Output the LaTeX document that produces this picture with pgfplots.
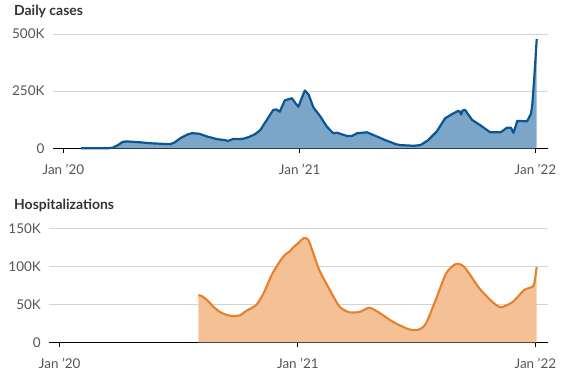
\documentclass[border=0pt]{standalone}
\usepackage{pgfplots}
\pgfplotsset{compat=1.18}
\usepackage{fontspec}
\setmainfont{Lato}
\definecolor{bline}{RGB}{12,84,146}
\definecolor{bfill}{RGB}{124,166,200}
\definecolor{oline}{RGB}{232,128,42}
\definecolor{ofill}{RGB}{244,192,150}
\definecolor{gridc}{RGB}{212,212,212}
\definecolor{tickc}{RGB}{85,85,85}
\definecolor{titc}{RGB}{51,51,51}
\pgfplotsset{
  common/.style={
    anchor=south west, scale only axis,
    xmin=-16, xmax=750, ymin=0,
    axis x line*=bottom, axis y line*=left,
    x axis line style={-, black, line width=0.9pt},
    y axis line style={draw=none},
    xtick={0,366,731}, xticklabels={Jan ’20, Jan ’21, Jan ’22},
    tick align=outside, major tick length=5bp,
    xtick style={black, line width=0.9pt},
    ytick style={draw=none},
    ymajorgrids, grid style={gridc, line width=0.7pt},
    scaled y ticks=false,
    tick label style={font=\fontsize{13.5}{15}\selectfont, text=tickc},
    /pgf/number format/assume math mode=true,
    yticklabel style={anchor=east},
    xticklabel style={yshift=-7bp},
    clip=false,
  }
}
\begin{document}
\begin{tikzpicture}
\path[use as bounding box] (0,0) rectangle (572bp,380bp);
\begin{axis}[common, at={(53bp,231.7bp)}, width=494.7bp, height=114.3bp,
  ymax=500000, ytick={0,250000,500000}, yticklabels={0,250K,500K}]
\addplot[fill=bfill, draw=none] coordinates {
(27,0)(50,0)(70,500)(77,3000)(85,15000)(92,28000)(98,30000)(110,28000)(120,26000)(135,22000)(150,20000)(165,18000)(172,25000)(181,44000)(192,60000)(199,66000)(210,64000)(222,52000)(238,40000)(250,36000)(255,32000)(263,41000)(272,40000)(279,42000)(288,50000)(297,62000)(305,80000)(315,124000)(325,168000)(330,170000)(335,160000)(343,210000)(354,219000)(360,195000)(364,182000)(369,219000)(374,253000)(380,234000)(387,180000)(398,139000)(408,95000)(418,66000)(424,68000)(439,54000)(447,54000)(455,66000)(470,70000)(486,51000)(501,33000)(515,18000)(522,14000)(542,11000)(553,14000)(565,36000)(578,73000)(591,131000)(604,153000)(612,164000)(614,160000)(616,148000)(618,165000)(622,168000)(633,124000)(645,102000)(661,70000)(677,70000)(682,80000)(687,90000)(693,90000)(697,68000)(703,120000)(718,118000)(724,150000)(726,186000)(729,300000)(731,387000)(733,478000)
} \closedcycle;
\addplot[bline, line width=2.2pt, line join=round] coordinates {
(27,0)(50,0)(70,500)(77,3000)(85,15000)(92,28000)(98,30000)(110,28000)(120,26000)(135,22000)(150,20000)(165,18000)(172,25000)(181,44000)(192,60000)(199,66000)(210,64000)(222,52000)(238,40000)(250,36000)(255,32000)(263,41000)(272,40000)(279,42000)(288,50000)(297,62000)(305,80000)(315,124000)(325,168000)(330,170000)(335,160000)(343,210000)(354,219000)(360,195000)(364,182000)(369,219000)(374,253000)(380,234000)(387,180000)(398,139000)(408,95000)(418,66000)(424,68000)(439,54000)(447,54000)(455,66000)(470,70000)(486,51000)(501,33000)(515,18000)(522,14000)(542,11000)(553,14000)(565,36000)(578,73000)(591,131000)(604,153000)(612,164000)(614,160000)(616,148000)(618,165000)(622,168000)(633,124000)(645,102000)(661,70000)(677,70000)(682,80000)(687,90000)(693,90000)(697,68000)(703,120000)(718,118000)(724,150000)(726,186000)(729,300000)(731,387000)(733,478000)
};
\end{axis}
\begin{axis}[common, at={(49.3bp,37.7bp)}, width=498.4bp, height=114bp,
  ymax=150000, ytick={0,50000,100000,150000}, yticklabels={0,50K,100K,150K}]
\addplot[fill=ofill, draw=none, smooth, tension=0.4] coordinates {
(213,62000)(218,61000)(226,56000)(236,47000)(246,40000)(257,36000)(267,34500)(277,35500)(287,41500)(302,49000)(313,64000)(326,89000)(338,106000)(346,115000)(354,120000)(359,125000)(366,130000)(375,137000)(382,135000)(389,119000)(399,95000)(415,69000)(430,47000)(445,39500)(461,40000)(476,45500)(491,39000)(512,27000)(537,17000)(553,17000)(563,25000)(578,56000)(594,91000)(609,103000)(622,99000)(645,71000)(665,53000)(678,46000)(696,53000)(714,69000)(724,72000)(729,76000)(733,99000)
} \closedcycle;
\addplot[oline, line width=2.1pt, smooth, tension=0.4] coordinates {
(213,62000)(218,61000)(226,56000)(236,47000)(246,40000)(257,36000)(267,34500)(277,35500)(287,41500)(302,49000)(313,64000)(326,89000)(338,106000)(346,115000)(354,120000)(359,125000)(366,130000)(375,137000)(382,135000)(389,119000)(399,95000)(415,69000)(430,47000)(445,39500)(461,40000)(476,45500)(491,39000)(512,27000)(537,17000)(553,17000)(563,25000)(578,56000)(594,91000)(609,103000)(622,99000)(645,71000)(665,53000)(678,46000)(696,53000)(714,69000)(724,72000)(729,76000)(733,99000)
};
\end{axis}
\node[anchor=base west, inner sep=0pt, font=\bfseries\fontsize{14}{16}\selectfont, text=titc] at (14bp,364bp) {Daily cases};
\node[anchor=base west, inner sep=0pt, font=\bfseries\fontsize{14}{16}\selectfont, text=titc] at (14bp,170bp) {Hospitalizations};
\end{tikzpicture}
\end{document}
